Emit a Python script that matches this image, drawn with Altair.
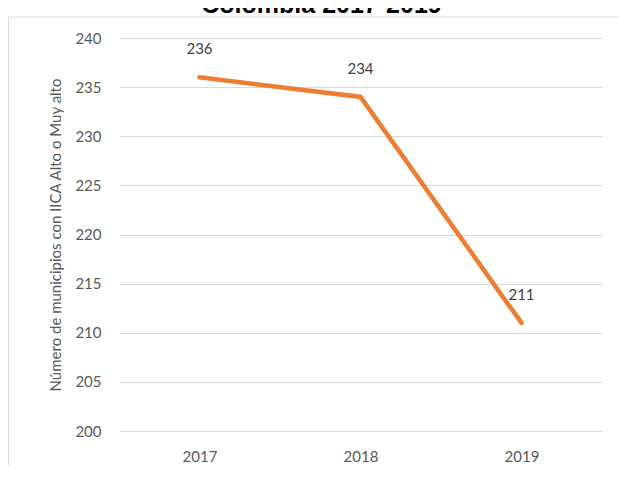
import altair as alt
import pandas as pd

years = ["2017", "2018", "2019"]
values = [236, 234, 211]
title_text = "Colombia 2017-2019"
y_title = "Número de municipios con IICA Alto o Muy alto"
y_ticks = [200, 205, 210, 215, 220, 225, 230, 235, 240]

df = pd.DataFrame({"year": years, "value": values})

FONT = "Lato"
W, H = 483, 393

base = alt.Chart(df)

x_enc = alt.X(
    "year:O",
    title=None,
    scale=alt.Scale(type="point", padding=0.5),
    axis=alt.Axis(
        labelAngle=0, domain=False, ticks=False, grid=False,
        labelFont=FONT, labelFontSize=15, labelColor="#595959", labelPadding=18,
    ),
)
y_enc = alt.Y(
    "value:Q",
    title=y_title,
    scale=alt.Scale(domain=[200, 240], nice=False, zero=False),
    axis=alt.Axis(
        values=y_ticks, domain=False, ticks=False,
        gridColor="#d9d9d9", gridWidth=1.2,
        labelFont=FONT, labelFontSize=15, labelColor="#595959", labelPadding=18,
        titleFont=FONT, titleFontSize=15, titleColor="#595959",
        titleFontWeight="normal", titlePadding=11,
    ),
)

line = base.mark_line(color="#ED7D31", strokeWidth=4.5, strokeCap="round", strokeJoin="miter").encode(
    x=x_enc, y=y_enc
)

labels = base.mark_text(
    dy=-28, baseline="middle", align="center", font=FONT, fontSize=15, color="#404040"
).encode(x=x_enc, y=y_enc, text="value:Q")

title = alt.Chart(pd.DataFrame({"t": [title_text]})).mark_text(
    font="Liberation Sans", fontWeight="bold", fontSize=25, color="#000000",
    align="center", baseline="alphabetic",
).encode(x=alt.value(202.5), y=alt.value(-25.5), text="t:N")

frame_top = alt.Chart(pd.DataFrame({"a": [0]})).mark_rule(color="#d9d9d9", strokeWidth=1).encode(
    x=alt.value(-110.5), x2=alt.value(507), y=alt.value(-21)
)
frame_left = alt.Chart(pd.DataFrame({"a": [0]})).mark_rule(color="#d9d9d9", strokeWidth=1).encode(
    x=alt.value(-110.5), y=alt.value(-21), y2=alt.value(432)
)

chart = (
    alt.layer(frame_top, frame_left, line, labels, title)
    .properties(
        width=W, height=H,
        background="white",
        autosize=alt.AutoSizeParams(type="none"),
        padding={"left": 111, "top": 30, "right": 16, "bottom": 34},
    )
    .configure_view(stroke=None, strokeWidth=0)
)

chart.save("out.html", embed_options={"renderer": "svg", "actions": False})
